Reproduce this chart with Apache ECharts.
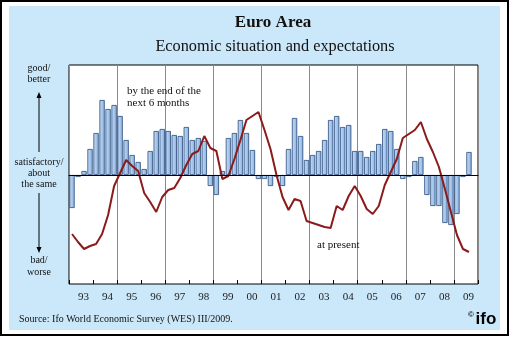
<!DOCTYPE html>
<html><head><meta charset="utf-8">
<script src="https://cdn.jsdelivr.net/npm/echarts@6/dist/echarts.min.js"></script>
<style>html,body{margin:0;padding:0;background:#fff}#c{width:510px;height:337px}</style>
</head><body><div id="c"></div>
<script>
const years = ['93','94','95','96','97','98','99','00','01','02','03','04','05','06','07','08','09'];
const quarterNames = ['Q1','Q2','Q3','Q4'];
// Expectations "by the end of the next 6 months" (quarterly, 1993Q1 - 2009Q3)
const expectations = [-33,-2,4,26,42,75,66,70,59,35,20,13,6,24,44,46,44,40,39,48,35,37,34,-11,-20,4,37,42,55,42,25,-4,-4,-11,-2,-11,26,57,39,15,20,24,35,55,59,48,50,24,24,18,24,31,46,44,26,-4,-2,14,18,-20,-31,-31,-48,-50,-39,-2,23];
// Economic situation "at present"
const present = [-59,-67,-74,-71,-69,-59,-40,-11,2,15,9,4,-18,-27,-37,-22,-15,-13,-3,10,21,24,39,27,24,-4,-1,16,35,55,59,63,45,26,0,-22,-35,-24,-26,-46,-48,-50,-52,-53,-31,-35,-21,-11,-21,-34,-39,-31,-10,3,16,37,41,45,53,36,23,8,-14,-37,-60,-74,-77];
const quarters = [];
years.forEach(y => quarterNames.forEach(q => quarters.push(y + q)));

const serif = 'Liberation Serif';
const chart = echarts.init(document.getElementById('c'), null, {renderer: 'canvas'});

function arrow(x, y1, y2) {
  const dir = y2 < y1 ? -1 : 1;
  return [
    {type: 'line', z: 10, shape: {x1: x, y1: y1, x2: x, y2: y2 - dir * 4}, style: {stroke: '#000', lineWidth: 1}},
    {type: 'polygon', z: 10, shape: {points: [[x, y2], [x - 2.5, y2 - dir * 6], [x + 2.5, y2 - dir * 6]]}, style: {fill: '#000'}}
  ];
}

function txt(x, y, s, size, opts) {
  opts = opts || {};
  return {type: 'text', z: 10, x: x, y: y,
    style: {text: s, fontFamily: opts.family || serif, fontSize: size, fontWeight: opts.weight || 'normal',
            fill: opts.fill || '#111', textAlign: opts.align || 'center', textVerticalAlign: 'middle'}};
}

chart.setOption({
  backgroundColor: 'transparent',
  animation: false,
  grid: {left: 69, right: 32, top: 65, bottom: 53, show: true, backgroundColor: 'transparent', borderColor: '#000', borderWidth: 1},
  xAxis: [
    {type: 'category', data: quarters, boundaryGap: true, show: true, z: 5,
     axisLine: {onZero: true, lineStyle: {color: '#000', width: 1}},
     axisTick: {show: false}, axisLabel: {show: false}, splitLine: {show: false}},
    {type: 'category', data: years, boundaryGap: true, position: 'bottom', z: 1,
     axisLine: {show: false, onZero: false},
     axisTick: {show: true, inside: true, length: 4, interval: 0, lineStyle: {color: '#000'}},
     axisLabel: {interval: 0, fontFamily: serif, fontSize: 11, color: '#222', margin: 8, padding: [0, 0, 0, 5]},
     splitLine: {show: false}},
    {type: 'value', min: 0, max: 17, interval: 2, position: 'bottom', z: 1,
     axisLine: {show: false, onZero: false}, axisTick: {show: false}, axisLabel: {show: false},
     splitLine: {show: true, lineStyle: {color: '#8a8a8a', width: 1}}}
  ],
  yAxis: {type: 'value', min: -109, max: 110, show: false, splitLine: {show: false}},
  series: [
    {type: 'bar', name: 'by the end of the next 6 months', data: expectations, xAxisIndex: 0, barCategoryGap: '12%', z: 2,
     itemStyle: {color: new echarts.graphic.LinearGradient(0, 0, 1, 0, [{offset: 0, color: '#c9dff6'}, {offset: 1, color: '#86afe0'}]),
                 borderColor: '#2a4a7a', borderWidth: 0.8}},
    {type: 'line', name: 'at present', data: present, xAxisIndex: 0, symbol: 'none', z: 3,
     lineStyle: {color: '#8b1a1a', width: 2}}
  ],
  graphic: [
    {type: 'rect', z: -100, shape: {x: 1, y: 1, width: 507, height: 334}, style: {fill: '#fff', stroke: '#000', lineWidth: 2}},
    {type: 'rect', z: -99, shape: {x: 9, y: 6, width: 491, height: 324}, style: {fill: '#cbe8fa'}},
    {type: 'rect', z: -98, shape: {x: 69, y: 65, width: 409, height: 219}, style: {fill: '#fff'}},
    txt(273, 23, 'Euro Area', 17, {weight: 'bold'}),
    txt(275, 47, 'Economic situation and expectations', 16.3),
    txt(39, 68, 'good/', 10), txt(39, 79, 'better', 10),
    ...arrow(39, 152, 92),
    txt(39, 162, 'satisfactory/', 10), txt(39, 173, 'about', 10), txt(39, 184, 'the same', 10),
    ...arrow(39, 193, 253),
    txt(39, 260, 'bad/', 10), txt(39, 272, 'worse', 10),
    txt(127, 91, 'by the end of the', 11, {align: 'left'}),
    txt(127, 103, 'next 6 months', 11, {align: 'left'}),
    txt(317, 245, 'at present', 11, {align: 'left'}),
    txt(19, 319, 'Source: Ifo World Economic Survey (WES) III/2009.', 10, {align: 'left'}),
    txt(471, 315, '©', 8, {family: 'Liberation Sans', weight: 'bold', fill: '#000'}),
    txt(486, 319, 'ifo', 17, {family: 'Liberation Sans', weight: 'bold', fill: '#000'})
  ]
});
</script></body></html>
